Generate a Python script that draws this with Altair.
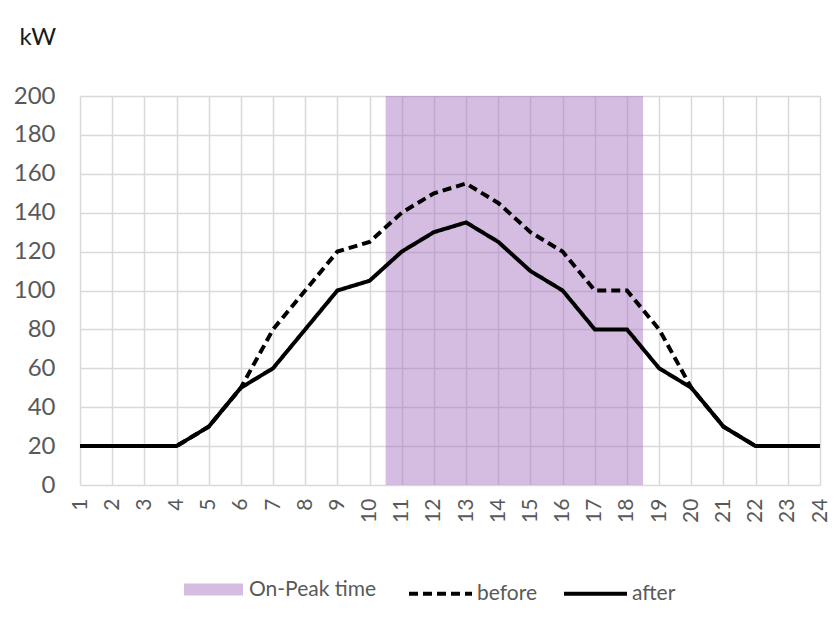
import altair as alt
import pandas as pd

# ---- data ----
hours = list(range(1, 25))
before = [20, 20, 20, 20, 30, 50, 80, 100, 120, 125, 140, 150,
          155, 145, 130, 120, 100, 100, 80, 50, 30, 20, 20, 20]
after = [20, 20, 20, 20, 30, 50, 60, 80, 100, 105, 120, 130,
         135, 125, 110, 100, 80, 80, 60, 50, 30, 20, 20, 20]
peak_hours = list(range(11, 19))
peak_level = 200
y_ticks = list(range(0, 201, 20))

FONT = "Lato"
LABEL = "#595959"

lines_df = pd.DataFrame(
    {"hour": hours * 2,
     "kW": before + after,
     "series": ["before"] * len(hours) + ["after"] * len(hours)}
)
peak_df = pd.DataFrame(
    {"start": [min(peak_hours) - 0.5],
     "end": [max(peak_hours) + 0.5],
     "top": [peak_level],
     "label": ["On-Peak time"]}
)

x_scale = alt.Scale(domain=[1, 24], nice=False, zero=False)
y_scale = alt.Scale(domain=[0, 200], nice=False)

x_axis = alt.Axis(values=hours, title=None, labelAngle=-90, labelFlush=False,
                  labelOverlap=False, ticks=False, domain=False,
                  labelFont=FONT, labelFontSize=21, labelColor=LABEL,
                  labelPadding=13, gridColor="#d9d9d9", gridWidth=1.5)
y_axis = alt.Axis(values=y_ticks, title="kW", titleAngle=0, titleAlign="left",
                  titleBaseline="alphabetic", titleX=-61, titleY=-52,
                  titleFont=FONT, titleFontSize=24, titleFontWeight="normal",
                  titleColor="#1a1a1a", labelFlush=False, ticks=False,
                  domain=False, labelFont=FONT, labelFontSize=24,
                  labelColor=LABEL, labelPadding=25, gridColor="#d9d9d9",
                  gridWidth=1.5)

peak = alt.Chart(peak_df).mark_rect(opacity=0.45).encode(
    x=alt.X("start:Q", scale=x_scale, axis=x_axis),
    x2="end:Q",
    y=alt.Y("top:Q", scale=y_scale, axis=y_axis),
    y2=alt.datum(0),
    color=alt.Color(
        "label:N",
        scale=alt.Scale(range=["#a06dbd"]),
        legend=alt.Legend(title=None, orient="none", legendX=104, legendY=464,
                          symbolType="M-1,-0.2H1V0.2H-1Z", symbolSize=3481,
                          symbolStrokeWidth=0, symbolOpacity=0.45,
                          labelFont=FONT, labelFontSize=21, labelColor=LABEL,
                          labelOffset=6),
    ),
)

lines = alt.Chart(lines_df).mark_line(color="black", strokeWidth=4).encode(
    x=alt.X("hour:Q", scale=x_scale, axis=x_axis),
    y=alt.Y("kW:Q", scale=y_scale, axis=y_axis),
    strokeDash=alt.StrokeDash(
        "series:N",
        scale=alt.Scale(domain=["before", "after"], range=[[9, 5], [1, 0]]),
        legend=alt.Legend(title=None, orient="none", legendX=327, legendY=464,
                          direction="horizontal", columnPadding=19,
                          symbolType="stroke", symbolSize=3969,
                          symbolStrokeWidth=4, symbolStrokeColor="black",
                          labelFont=FONT, labelFontSize=21, labelColor=LABEL,
                          labelOffset=3),
    ),
    order=alt.Order("hour:Q"),
)

chart = alt.layer(peak, lines).properties(
    width=740,
    height=389,
    autosize=alt.AutoSizeParams(type="none"),
    padding={"left": 72, "top": 88, "right": 10, "bottom": 128},
    background="white",
).configure_view(stroke=None)

chart.save("out.html", embed_options={"renderer": "svg", "actions": False})
